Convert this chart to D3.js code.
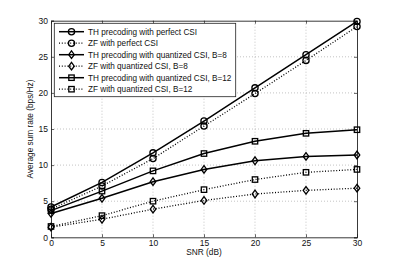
<!DOCTYPE html>
<html><head><meta charset="utf-8">
<script src="https://cdn.jsdelivr.net/npm/d3@7"></script>
<style>body{margin:0;background:#fff}svg{display:block}text{font-family:"Liberation Sans",Arial,sans-serif}</style>
</head><body><svg id="c" width="395" height="267"></svg>
<script>
const snr = [0, 5, 10, 15, 20, 25, 30];
const thPerfect = [4.2, 7.6, 11.7, 16.1, 20.7, 25.3, 29.9];
const zfPerfect = [3.9, 7.1, 10.9, 15.4, 19.9, 24.5, 29.2];
const thB8 = [3.3, 5.4, 7.7, 9.4, 10.6, 11.2, 11.4];
const zfB8 = [1.4, 2.5, 3.9, 5.1, 6.0, 6.5, 6.8];
const thB12 = [3.7, 6.4, 9.2, 11.6, 13.3, 14.4, 14.9];
const zfB12 = [1.5, 3.0, 5.0, 6.6, 8.0, 9.0, 9.4];
const seriesNames = ["TH precoding with perfect CSI","ZF with perfect CSI","TH precoding with quantized CSI, B=8","ZF with quantized CSI, B=8","TH precoding with quantized CSI, B=12","ZF with quantized CSI, B=12"];
const xTicks = [0,5,10,15,20,25,30];
const yTicks = [0,5,10,15,20,25,30];

const series = [
  {name: seriesNames[0], values: thPerfect, marker: "circle", dotted: false},
  {name: seriesNames[1], values: zfPerfect, marker: "circle", dotted: true},
  {name: seriesNames[2], values: thB8, marker: "diamond", dotted: false},
  {name: seriesNames[3], values: zfB8, marker: "diamond", dotted: true},
  {name: seriesNames[4], values: thB12, marker: "square", dotted: false},
  {name: seriesNames[5], values: zfB12, marker: "square", dotted: true}
];

const svg = d3.select("#c");
const L = 51, R = 357, T = 20.7, B = 237.3;
const x = d3.scaleLinear().domain([0,30]).range([L,R]);
const y = d3.scaleLinear().domain([0,30]).range([B,T]);

// grid
const g = svg.append("g");
g.selectAll(".gx").data(xTicks.slice(1,-1)).enter().append("line")
  .attr("x1", d=>x(d)).attr("x2", d=>x(d)).attr("y1", T).attr("y2", B)
  .attr("stroke", "#aaa").attr("stroke-width", 0.7).attr("stroke-dasharray", "1,2");
g.selectAll(".gy").data(yTicks.slice(1,-1)).enter().append("line")
  .attr("y1", d=>y(d)).attr("y2", d=>y(d)).attr("x1", L).attr("x2", R)
  .attr("stroke", "#aaa").attr("stroke-width", 0.7).attr("stroke-dasharray", "1,2");

// axes
const xAxis = d3.axisBottom(x).tickValues(xTicks).tickSize(-3).tickPadding(2.5);
const yAxis = d3.axisLeft(y).tickValues(yTicks).tickSize(-3).tickPadding(3);
const xa = svg.append("g").attr("transform", `translate(0,${B})`).call(xAxis);
const ya = svg.append("g").attr("transform", `translate(${L},0)`).call(yAxis);
const xt = svg.append("g").attr("transform", `translate(0,${T})`).call(d3.axisTop(x).tickValues(xTicks).tickSize(-3).tickFormat(""));
const yr = svg.append("g").attr("transform", `translate(${R},0)`).call(d3.axisRight(y).tickValues(yTicks).tickSize(-3).tickFormat(""));
[xa,ya,xt,yr].forEach(a=>{
  a.select(".domain").attr("stroke","#222").attr("stroke-width",0.9);
  a.selectAll(".tick line").attr("stroke","#222").attr("stroke-width",0.7);
  a.selectAll("text").attr("font-size", 8.5).attr("fill","#111").attr("font-family","Liberation Sans, Arial, sans-serif");
});

// lines
const line = d3.line().x((d,i)=>x(snr[i])).y(d=>y(d));
function drawMarker(sel, type, cx, cy) {
  if (type === "circle") {
    sel.append("circle").attr("cx", cx).attr("cy", cy).attr("r", 3.1)
      .attr("fill","none").attr("stroke","#000").attr("stroke-width",1.3);
  } else if (type === "square") {
    sel.append("rect").attr("x", cx-2.7).attr("y", cy-2.7).attr("width",5.4).attr("height",5.4)
      .attr("fill","none").attr("stroke","#000").attr("stroke-width",1.3);
  } else {
    sel.append("path").attr("d", `M${cx},${cy-3.8}L${cx+2.8},${cy}L${cx},${cy+3.8}L${cx-2.8},${cy}Z`)
      .attr("fill","none").attr("stroke","#000").attr("stroke-width",1.3);
  }
}
series.forEach(s=>{
  svg.append("path").datum(s.values).attr("d", line)
    .attr("fill","none").attr("stroke","#000")
    .attr("stroke-width", s.dotted ? 1.3 : 1.5)
    .attr("stroke-dasharray", s.dotted ? "1,1.8" : null);
  const mg = svg.append("g");
  s.values.forEach((v,i)=>drawMarker(mg, s.marker, x(snr[i]), y(v)));
});

// legend
const lg = svg.append("g");
lg.append("rect").attr("x", 54.3).attr("y", 23.3).attr("width", 181.4).attr("height", 73.4)
  .attr("fill","#fff").attr("stroke","#222").attr("stroke-width",0.8);
const rowY = [31.7, 43.2, 54.7, 66.2, 77.7, 89.2];
const texts = [];
series.forEach((s,i)=>{
  lg.append("line").attr("x1", 59).attr("x2", 84).attr("y1", rowY[i]).attr("y2", rowY[i])
    .attr("stroke","#000").attr("stroke-width", s.dotted?1.3:1.5)
    .attr("stroke-dasharray", s.dotted ? "1,1.8" : null);
  drawMarker(lg, s.marker, 71.5, rowY[i]);
  texts.push(lg.append("text").attr("x", 88).attr("y", rowY[i]+3).attr("font-size", 8.3)
    .attr("fill","#111").text(s.name));
});
// fit legend font so the longest entry ends where the reference's does
const maxW = d3.max(texts, t => t.node().getComputedTextLength());
const fs = Math.max(7.5, Math.min(9.5, 8.3 * 143.5 / maxW));
texts.forEach(t => t.attr("font-size", fs));

// labels
svg.append("text").attr("x", (L+R)/2).attr("y", 254.5).attr("text-anchor","middle")
  .attr("font-size", 8.3).attr("fill","#111").text("SNR (dB)");
svg.append("text").attr("transform", `translate(33,${(T+B)/2}) rotate(-90)`).attr("text-anchor","middle")
  .attr("font-size", 8.3).attr("fill","#111").text("Average sum rate (bps/Hz)");
</script></body></html>
